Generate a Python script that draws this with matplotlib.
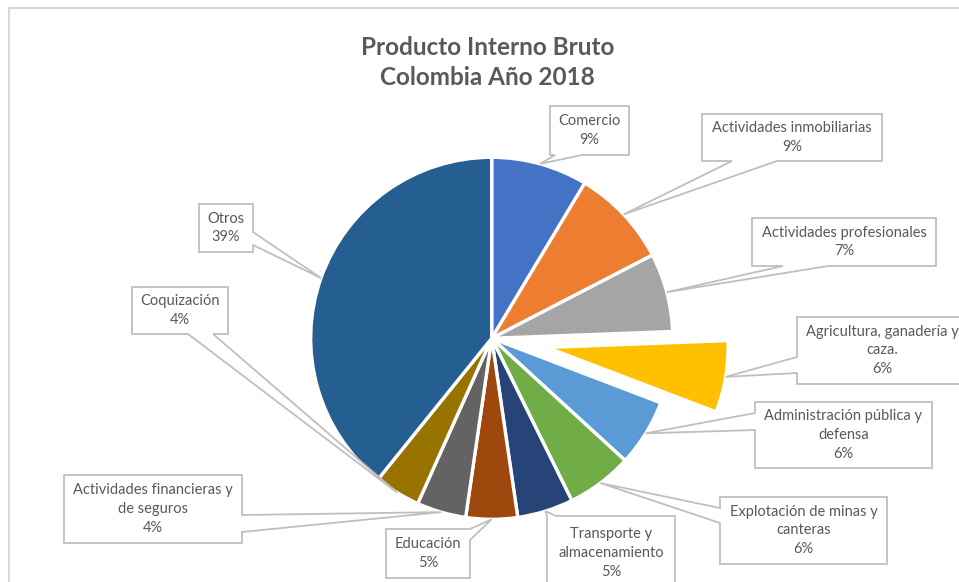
import matplotlib.pyplot as plt
from matplotlib.patches import Polygon
import numpy as np

W, H = 959, 582

# data (percent of GDP)
sectors = ["Comercio", "Actividades inmobiliarias", "Actividades profesionales",
           "Agricultura, ganadería y caza.", "Administración pública y defensa",
           "Explotación de minas y canteras", "Transporte y almacenamiento",
           "Educación", "Actividades financieras y de seguros", "Coquización", "Otros"]
shares = [8.6, 8.8, 7.0, 6.4, 6.0, 5.9, 5.0, 4.6, 4.4, 4.1, 39.2]

# label text as wrapped in the boxes
label_text = ["Comercio", "Actividades inmobiliarias", "Actividades profesionales",
              "Agricultura, ganadería y\ncaza.", "Administración pública y\ndefensa",
              "Explotación de minas y\ncanteras", "Transporte y\nalmacenamiento",
              "Educación", "Actividades financieras y\nde seguros", "Coquización", "Otros"]

colors = ["#4472C4", "#ED7D31", "#A5A5A5", "#FFC000", "#5B9BD5", "#70AD47",
          "#264478", "#9E480E", "#636363", "#997300", "#255E91"]
explode = [0, 0, 0, 0.31, 0, 0, 0, 0, 0, 0, 0]

# callout boxes in image pixels: (x0, y0, x1, y1), side of pointer, base span along side
boxes = [
    ((550, 106, 629, 155), "bottom", (555, 582)),
    ((702, 114, 882, 161), "bottom", (732, 777)),
    ((752, 218, 936, 266), "bottom", (783, 828)),
    ((797, 317, 967, 384), "left", (357, 373)),
    ((755, 402, 932, 468), "left", (413, 430)),
    ((720, 497, 887, 564), "left", (508, 523)),
    ((547, 516, 675, 590), "top", (547, 556)),
    ((386, 529, 470, 578), "right", (529, 540)),
    ((64, 475, 242, 543), "right", (515, 532)),
    ((132, 287, 228, 334), "bottom", (188, 213)),
    ((199, 204, 253, 252), "right", (232, 245)),
]

plt.rcParams['font.family'] = ['Lato', 'DejaVu Sans']

fig = plt.figure(figsize=(W / 100, H / 100), dpi=100)
ax = fig.add_axes([0, 0, 1, 1])

R = 181
wedges, _ = ax.pie(shares, colors=colors, explode=[e * R for e in explode],
                   startangle=90, counterclock=False, center=(491.7, H - 338.3),
                   radius=R, wedgeprops=dict(edgecolor="white", linewidth=2.4))
ax.set_xlim(0, W)
ax.set_ylim(0, H)
ax.set_aspect("equal")
ax.axis("off")

total = sum(shares)
for w, txt, v, (box, side, (a, b)) in zip(wedges, label_text, shares, boxes):
    mid = np.deg2rad((w.theta1 + w.theta2) / 2)
    tip = (w.center[0] + w.r * np.cos(mid), w.center[1] + w.r * np.sin(mid))
    x0, y0, x1, y1 = box
    top, bot = H - y0, H - y1
    tl, tr, br, bl = (x0, top), (x1, top), (x1, bot), (x0, bot)
    if side == "top":
        verts = [tl, (a, top), tip, (b, top), tr, br, bl]
    elif side == "right":
        verts = [tl, tr, (x1, H - a), tip, (x1, H - b), br, bl]
    elif side == "bottom":
        verts = [tl, tr, br, (b, bot), tip, (a, bot), bl]
    else:
        verts = [tl, tr, br, bl, (x0, H - b), tip, (x0, H - a)]
    ax.add_patch(Polygon(verts, closed=True, facecolor="white",
                         edgecolor="#BFBFBF", linewidth=1.3, zorder=3))
    ax.text((x0 + x1) / 2, (top + bot) / 2, f"{txt}\n{round(v / total * 100):.0f}%",
            ha="center", va="center", color="#595959", fontsize=10.5,
            linespacing=1.45, zorder=4)

ax.text(W / 2 + 8, H - 62.5, "Producto Interno Bruto\nColombia Año 2018", ha="center",
        va="center", color="#595959", fontsize=17.5, fontweight="bold", linespacing=1.4)

# chart area border
ax.plot([9, 9, W + 5], [-5, H - 7.5, H - 7.5], color="#D9D9D9", lw=1.5, zorder=1)

fig.savefig("out.png", dpi=100)
